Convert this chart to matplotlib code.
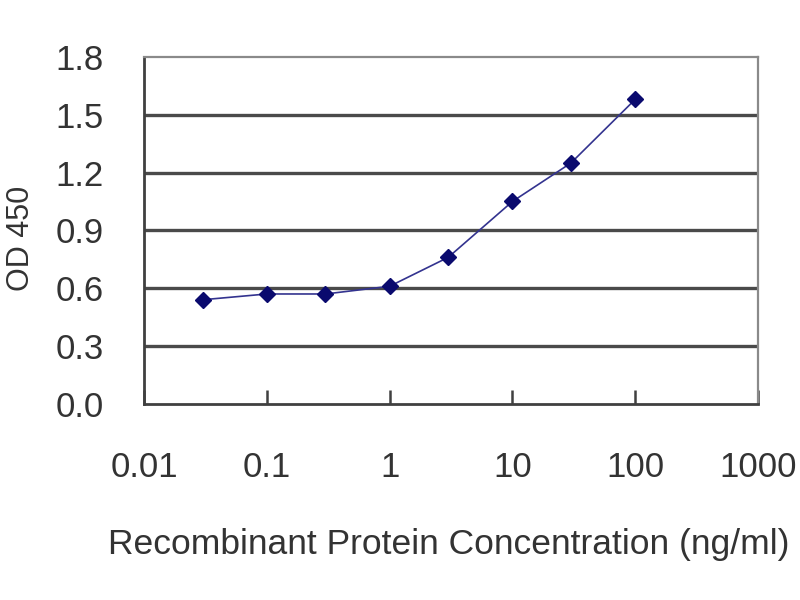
import matplotlib
matplotlib.use("Agg")
from matplotlib import pyplot as plt
from matplotlib.ticker import FixedLocator, FixedFormatter, NullLocator

# data
conc = [0.03, 0.1, 0.3, 1, 3, 10, 30, 100]
od450 = [0.54, 0.57, 0.57, 0.61, 0.76, 1.05, 1.25, 1.58]

x_ticks = [0.01, 0.1, 1, 10, 100, 1000]
x_labels = ["0.01", "0.1", "1", "10", "100", "1000"]
y_ticks = [0.0, 0.3, 0.6, 0.9, 1.2, 1.5, 1.8]
y_labels = ["0.0", "0.3", "0.6", "0.9", "1.2", "1.5", "1.8"]


def main():
    plt.rcParams['font.family'] = ['Liberation Sans', 'DejaVu Sans']
    fig = plt.figure(figsize=(8, 6), dpi=100)
    ax = fig.add_axes([0.18, 0.327, 0.7675, 0.578])

    ax.set_xscale("log")
    ax.set_xlim(0.01, 1000)
    ax.set_ylim(0, 1.8)

    # horizontal grid lines like the old spreadsheet chart
    for y in y_ticks[1:-1]:
        ax.axhline(y, color="#4a4a4a", lw=2.4, zorder=1)

    ax.plot(conc, od450, color="#33338f", lw=1.2, zorder=3)
    ax.plot(conc, od450, ls="none", marker="D", ms=8.5,
            color="#0a0a6e", mec="#0a0a6e", zorder=4)

    ax.xaxis.set_major_locator(FixedLocator(x_ticks))
    ax.xaxis.set_major_formatter(FixedFormatter(x_labels))
    ax.xaxis.set_minor_locator(NullLocator())
    ax.yaxis.set_major_locator(FixedLocator(y_ticks))
    ax.yaxis.set_major_formatter(FixedFormatter(y_labels))

    ax.tick_params(axis="x", which="major", direction="in", length=10,
                   width=1.8, color="#404040", labelsize=25,
                   pad=34, labelcolor="#333333")
    ax.tick_params(axis="y", length=0, labelsize=25, pad=29,
                   labelcolor="#333333")

    for side in ["left", "bottom"]:
        ax.spines[side].set_color("#404040")
        ax.spines[side].set_linewidth(2)
    for side in ["top", "right"]:
        ax.spines[side].set_color("#8a8a8a")
        ax.spines[side].set_linewidth(1.6)

    fig.text(0.561, 0.092, "Recombinant Protein Concentration (ng/ml)",
             ha="center", va="center", fontsize=25.5, color="#333333")
    fig.text(0.026, 0.603, "OD 450", rotation=90, ha="center",
             va="center", fontsize=22, color="#333333")

    fig.savefig("out.png", dpi=100, facecolor="white")


if __name__ == '__main__':
    main()
